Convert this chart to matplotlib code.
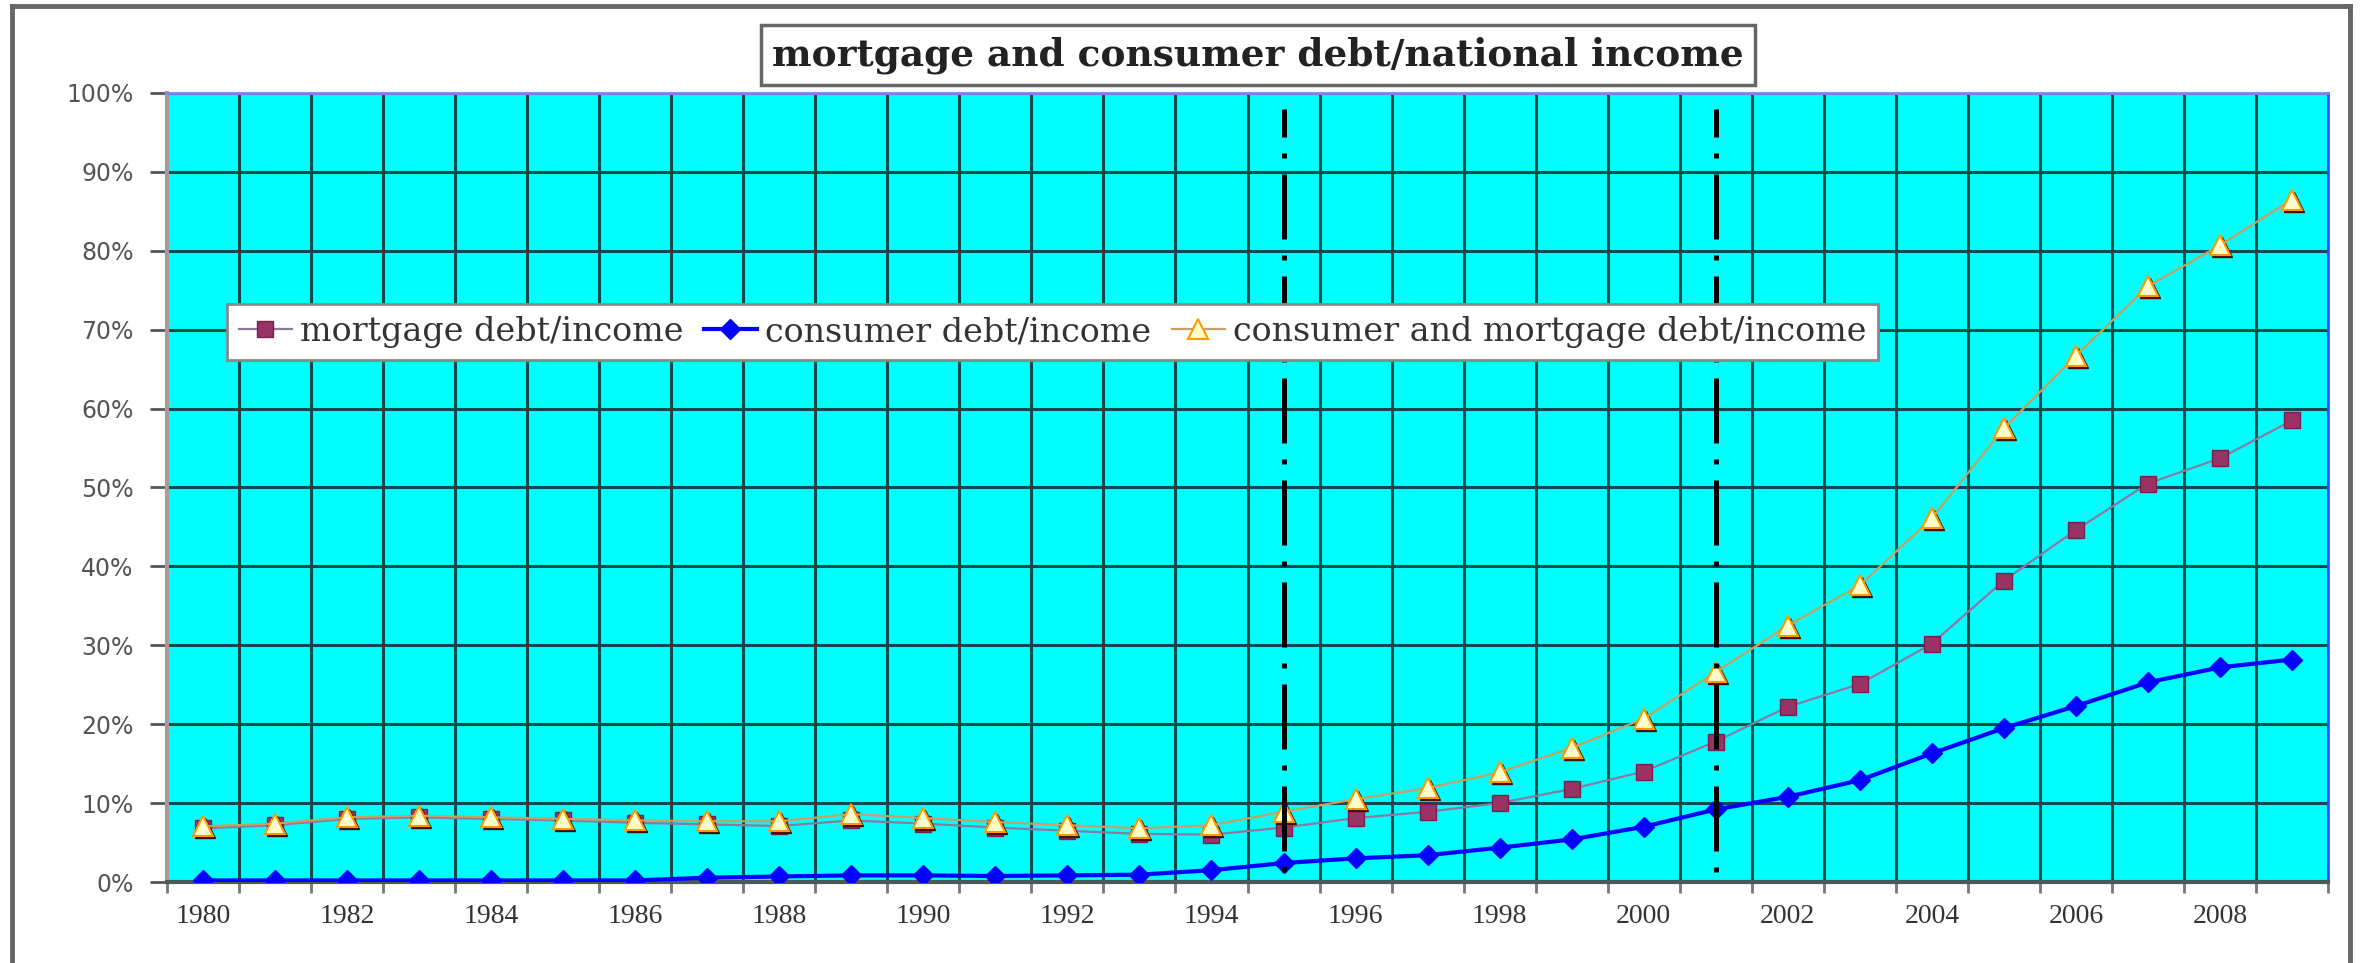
import numpy as np
import matplotlib
matplotlib.use("Agg")
import matplotlib.pyplot as plt
import matplotlib.transforms as mtransforms
from matplotlib.lines import Line2D

years = list(range(1980, 2010))
mortgage = [6.8, 7.2, 8.0, 8.2, 8.0, 7.8, 7.5, 7.3, 7.1, 7.8,
            7.4, 6.9, 6.5, 6.1, 6.0, 6.9, 8.1, 8.9, 10.0, 11.8,
            14.0, 17.8, 22.2, 25.1, 30.2, 38.2, 44.6, 50.5, 53.7, 58.5]
consumer = [0.2, 0.2, 0.2, 0.2, 0.2, 0.2, 0.2, 0.55, 0.7, 0.84,
            0.84, 0.76, 0.84, 0.93, 1.5, 2.4, 3.0, 3.4, 4.35, 5.4,
            7.0, 9.2, 10.8, 12.9, 16.3, 19.5, 22.3, 25.3, 27.2, 28.2]
total = [7.05, 7.4, 8.2, 8.4, 8.2, 8.0, 7.8, 7.7, 7.7, 8.6,
         8.1, 7.6, 7.2, 6.8, 7.2, 8.9, 10.5, 11.9, 13.9, 17.0,
         20.7, 26.6, 32.5, 37.6, 46.1, 57.5, 66.7, 75.5, 80.7, 86.5]
marker_years = [1995, 2001]
series_labels = ["mortgage debt/income", "consumer debt/income",
                 "consumer and mortgage debt/income"]
title = "mortgage and consumer debt/national income"

x = np.arange(len(years))

fig = plt.figure(figsize=(23.66, 9.63), dpi=100)
ax = fig.add_axes([167 / 2366, 1 - 882 / 963, (2328 - 167) / 2366, (882 - 93) / 963])
ax.set_facecolor("#00ffff")

# mortgage
ax.plot(x, mortgage, color="#8a7aa0", lw=1.6, marker="s", ms=11,
        mfc="#993366", mec="#7a1f4a", mew=1, zorder=4, label=series_labels[0])
# consumer
ax.plot(x, consumer, color="#0000ff", lw=3, marker="D", ms=10,
        mfc="#0000ff", mec="#0000ff", zorder=5, label=series_labels[1])
# total: shadow then triangles
shadow = mtransforms.offset_copy(ax.transData, fig=fig, x=2, y=-2, units="dots")
ax.plot(x, total, ls="none", marker="^", ms=15, mfc="#401000", mec="#401000",
        transform=shadow, zorder=5.5)
ax.plot(x, total, color="#c8a060", lw=1.6, marker="^", ms=15,
        mfc="#ffffcc", mec="#ff9900", mew=1.5, zorder=6, label=series_labels[2])

for yr in marker_years:
    xi = years.index(yr)
    ax.plot([xi, xi], [1.3, 98], color="black", lw=3.6,
            dashes=(1, 3.2, 13, 3.2), zorder=7)

ax.set_xlim(-0.5, len(years) - 0.5)
ax.set_ylim(0, 100)
ax.set_yticks(np.arange(0, 101, 10))
ax.set_yticklabels([f"{v}%" for v in range(0, 101, 10)],
                   fontfamily="DejaVu Sans", fontsize=17, color="#555555")
ax.set_xticks(np.arange(-0.5, len(years)), minor=False)
ax.set_xticklabels([])
ax.set_xticks(x[::2], minor=True)
ax.set_xticklabels([str(y) for y in years[::2]], minor=True,
                   fontfamily="Liberation Serif", fontsize=20, color="#333333")
ax.tick_params(axis="x", which="minor", length=0, pad=16)
ax.tick_params(axis="x", which="major", direction="out", length=8, width=2, color="#777777")
ax.tick_params(axis="y", direction="out", length=12, width=2, color="#555555", pad=12)
ax.grid(True, which="major", color="#0b4a4a", lw=2.2, zorder=1)
ax.set_axisbelow(True)

ax.spines["left"].set_color("#a89a9a")
ax.spines["left"].set_linewidth(3)
ax.spines["bottom"].set_color("#4a5a5a")
ax.spines["bottom"].set_linewidth(3)
ax.spines["top"].set_color("#8080ff")
ax.spines["top"].set_linewidth(2)
ax.spines["right"].set_color("#2255ff")
ax.spines["right"].set_linewidth(2)

leg = ax.legend(loc="center left", bbox_to_anchor=(0.02, 0.697), ncol=3,
                frameon=True, fancybox=False, framealpha=1, edgecolor="#888888",
                prop={"family": "DejaVu Serif", "size": 24},
                handlelength=1.6, handletextpad=0.25, columnspacing=0.6,
                borderpad=0.35)
leg.get_frame().set_linewidth(2)
leg.set_zorder(8)
for t in leg.get_texts():
    t.set_color("#333333")

fig.text(1258 / 2366, 1 - 55 / 963, title, ha="center", va="center",
         fontfamily="DejaVu Serif", fontweight="bold", fontsize=27, color="#222222",
         bbox=dict(boxstyle="square,pad=0.3", fc="white", ec="#666666", lw=2.5))

# outer frame
fig.add_artist(Line2D([12 / 2366, 12 / 2366], [0, 1 - 6 / 963], color="#666666", lw=3.5))
fig.add_artist(Line2D([12 / 2366, 2350 / 2366], [1 - 6 / 963, 1 - 6 / 963], color="#666666", lw=3.5))
fig.add_artist(Line2D([2350 / 2366, 2350 / 2366], [0, 1 - 6 / 963], color="#666666", lw=3.5))

fig.savefig("out.png", dpi=100)
